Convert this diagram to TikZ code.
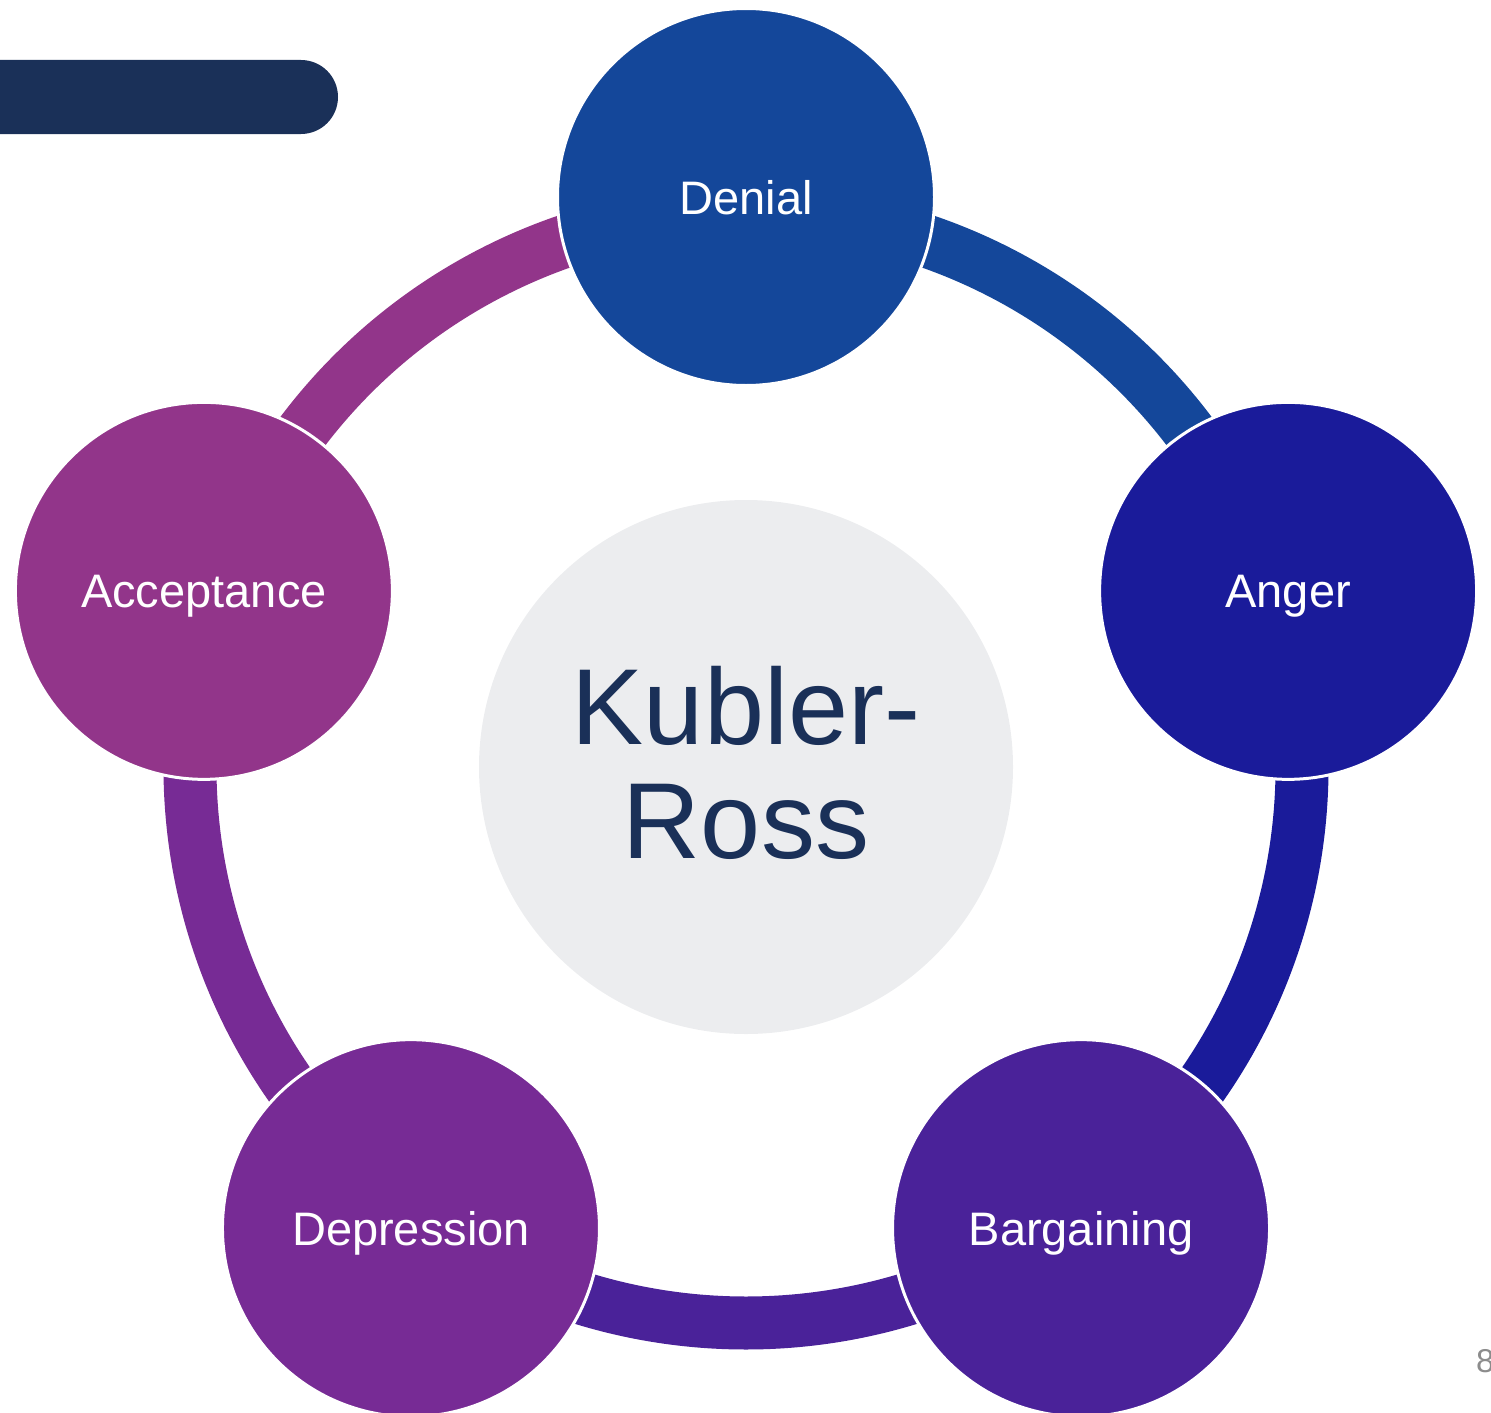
\documentclass[tikz,border=0pt]{standalone}
\usepackage{fontspec}
\setmainfont{Liberation Sans}
\usetikzlibrary{calc}
\definecolor{navy}{HTML}{1A3058}
\definecolor{hubgray}{HTML}{ECEDEF}
\definecolor{cDenial}{HTML}{14479A}
\definecolor{cAnger}{HTML}{1A1B9A}
\definecolor{cBargain}{HTML}{4A2299}
\definecolor{cDepress}{HTML}{772B95}
\definecolor{cAccept}{HTML}{92358A}
\definecolor{pagegray}{HTML}{8C8C8C}
\begin{document}
\begin{tikzpicture}[x=1pt,y=1pt,
  stage/.style={circle, minimum size=377pt, inner sep=0pt, draw=white,
    line width=3pt, text=white, font=\fontsize{47}{56}\selectfont,
    text height=34pt, text depth=0pt},
  ringarc/.style={line width=53pt, line cap=butt},
  title/.style={text=navy, font=\fontsize{108}{114}\selectfont, anchor=base, inner sep=0pt}]
\useasboundingbox (0,0) rectangle (1491,-1413);

% header bar, square on the left, round on the right
\fill[navy] (0,-60) -- (301,-60) arc[start angle=90, end angle=-90, radius=37]
  -- (0,-134) -- cycle;

% hub
\node[circle, fill=hubgray, minimum size=534pt, inner sep=0pt] (hub) at (746,-767) {};

% stage positions on the cycle
\coordinate (pDen) at ($(hub.center)+(90:570)$);
\coordinate (pAng) at ($(hub.center)+(18:570)$);
\coordinate (pBar) at ($(hub.center)+(-54:570)$);
\coordinate (pDep) at ($(hub.center)+(-126:570)$);
\coordinate (pAcc) at ($(hub.center)+(162:570)$);

% connecting ring segments, each in the colour of the stage it leaves
\draw[ringarc, cDenial]  (hub.center) ++(90:556)   arc[start angle=90,   end angle=18,   radius=556];
\draw[ringarc, cAnger]   (hub.center) ++(18:556)   arc[start angle=18,   end angle=-54,  radius=556];
\draw[ringarc, cBargain] (hub.center) ++(-54:556)  arc[start angle=-54,  end angle=-126, radius=556];
\draw[ringarc, cDepress] (hub.center) ++(-126:556) arc[start angle=-126, end angle=-198, radius=556];
\draw[ringarc, cAccept]  (hub.center) ++(162:556)  arc[start angle=162,  end angle=90,   radius=556];

% stages
\node[stage, fill=cDenial]  (den) at (pDen) {Denial};
\node[stage, fill=cAnger]   (ang) at (pAng) {Anger};
\node[stage, fill=cBargain] (bar) at (pBar) {Bargaining};
\node[stage, fill=cDepress] (dep) at (pDep) {Depression};
\node[stage, fill=cAccept]  (acc) at (pAcc) {Acceptance};

% hub title
\node[title] (kub) at (746,-744) {Kubler-};
\node[title] (ross) at (746,-858) {Ross};

% page number
\node[text=pagegray, font=\fontsize{33}{38}\selectfont, anchor=base west, inner sep=0pt]
  (page) at (1476,-1372) {8};
\end{tikzpicture}
\end{document}
